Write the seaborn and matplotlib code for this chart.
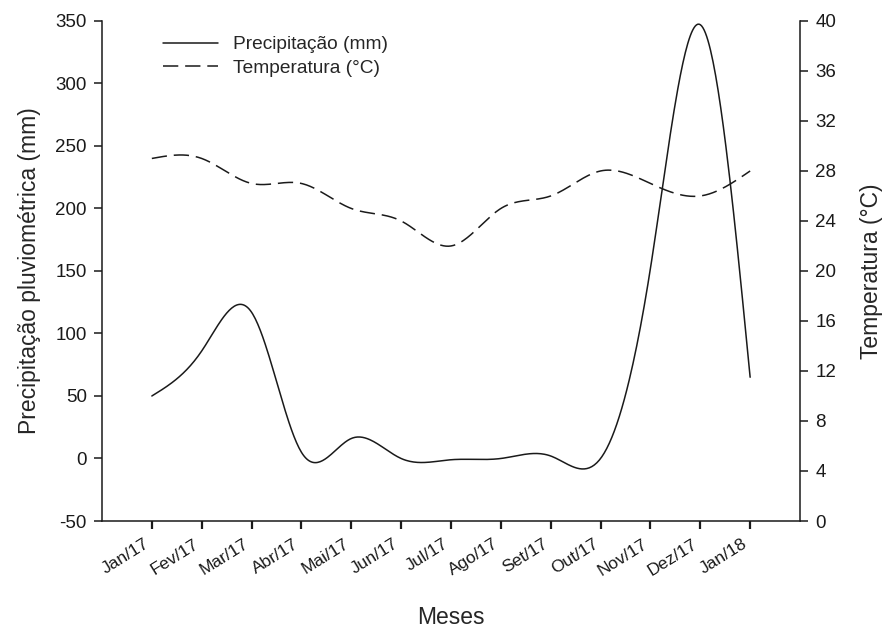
import numpy as np
import pandas as pd
import matplotlib
matplotlib.use("Agg")
import matplotlib.pyplot as plt
import seaborn as sns

# data
months = ['Jan/17', 'Fev/17', 'Mar/17', 'Abr/17', 'Mai/17', 'Jun/17', 'Jul/17',
          'Ago/17', 'Set/17', 'Out/17', 'Nov/17', 'Dez/17', 'Jan/18']
precip = [50, 86, 117, 5, 16, 0, -1, 0, 2, 0, 152, 347, 65]
temp = [29, 29, 27, 27, 25, 24, 22, 25, 26, 28, 27, 26, 28]


def spline_curve(y, n=40):
    # natural cubic spline through the monthly points (smooth line like the original)
    y = np.asarray(y, dtype=float)
    k = len(y)
    A = np.zeros((k, k))
    b = np.zeros(k)
    A[0, 0] = A[-1, -1] = 1
    for i in range(1, k - 1):
        A[i, i - 1], A[i, i], A[i, i + 1] = 1, 4, 1
        b[i] = 6 * (y[i + 1] - 2 * y[i] + y[i - 1])
    M = np.linalg.solve(A, b)
    xs, ys = [], []
    for i in range(k - 1):
        t = np.linspace(0, 1, n, endpoint=(i == k - 2))
        s = ((1 - t) * y[i] + t * y[i + 1]
             + ((1 - t) ** 3 - (1 - t)) * M[i] / 6 + (t ** 3 - t) * M[i + 1] / 6)
        xs.append(i + t)
        ys.append(s)
    return np.concatenate(xs), np.concatenate(ys)


sns.set_style("ticks")
plt.rcParams['font.family'] = ['Liberation Sans', 'DejaVu Sans']
plt.rcParams['axes.unicode_minus'] = False

fig = plt.figure(figsize=(8.83, 6.29), dpi=100)
ax = fig.add_axes([0.1155, 0.1717, 0.7905, 0.795])
ax2 = ax.twinx()

xp, yp = spline_curve(precip)
xt, yt = spline_curve(temp)
df_p = pd.DataFrame({'x': xp, 'y': yp})
df_t = pd.DataFrame({'x': xt, 'y': yt})

sns.lineplot(data=df_p, x='x', y='y', ax=ax, color='#1a1a1a', linewidth=1.1,
             estimator=None, sort=False, label='Precipitação (mm)', legend=False)
sns.lineplot(data=df_t, x='x', y='y', ax=ax2, color='#1a1a1a', linewidth=1.1,
             estimator=None, sort=False, label='Temperatura (°C)', legend=False,
             dashes=False)
ax2.lines[0].set_dashes([10, 4.5])

ax.set_xlim(-1, 13)
ax.set_ylim(-50, 350)
ax2.set_ylim(0, 40)
ax.set_yticks(range(-50, 351, 50))
ax2.set_yticks(range(0, 41, 4))
ax.set_xticks(range(len(months)))
ax.set_xticklabels(months, rotation=32, ha='right', fontsize=12.5)

ax.tick_params(axis='y', labelsize=13.5, length=6, width=1.1, pad=5, colors='#1a1a1a')
ax.tick_params(axis='x', length=6, width=1.6, pad=5, colors='#1a1a1a')
ax2.tick_params(axis='y', labelsize=13.5, length=6, width=1.1, pad=5, colors='#1a1a1a')

for a in (ax, ax2):
    a.spines['top'].set_visible(False)
    for s in a.spines.values():
        s.set_linewidth(1.1)
        s.set_color('#1a1a1a')
ax.spines['right'].set_visible(False)
ax2.spines['left'].set_visible(False)
ax2.spines['bottom'].set_visible(False)

ax.set_xlabel('Meses', fontsize=16.5, labelpad=20)
ax.set_ylabel('Precipitação pluviométrica (mm)', fontsize=16.5, labelpad=10)
ax2.set_ylabel('Temperatura (°C)', fontsize=16.5, labelpad=17)

handles = [ax.lines[0], ax2.lines[0]]
fig.legend(handles=handles, labels=[h.get_label() for h in handles],
           loc='upper left', bbox_to_anchor=(163 / 883, 1 - 36 / 629),
           frameon=False, fontsize=13.8, handlelength=2.85, handletextpad=0.8,
           labelspacing=0.3, borderpad=0, borderaxespad=0)

fig.savefig('out.png', dpi=100)
